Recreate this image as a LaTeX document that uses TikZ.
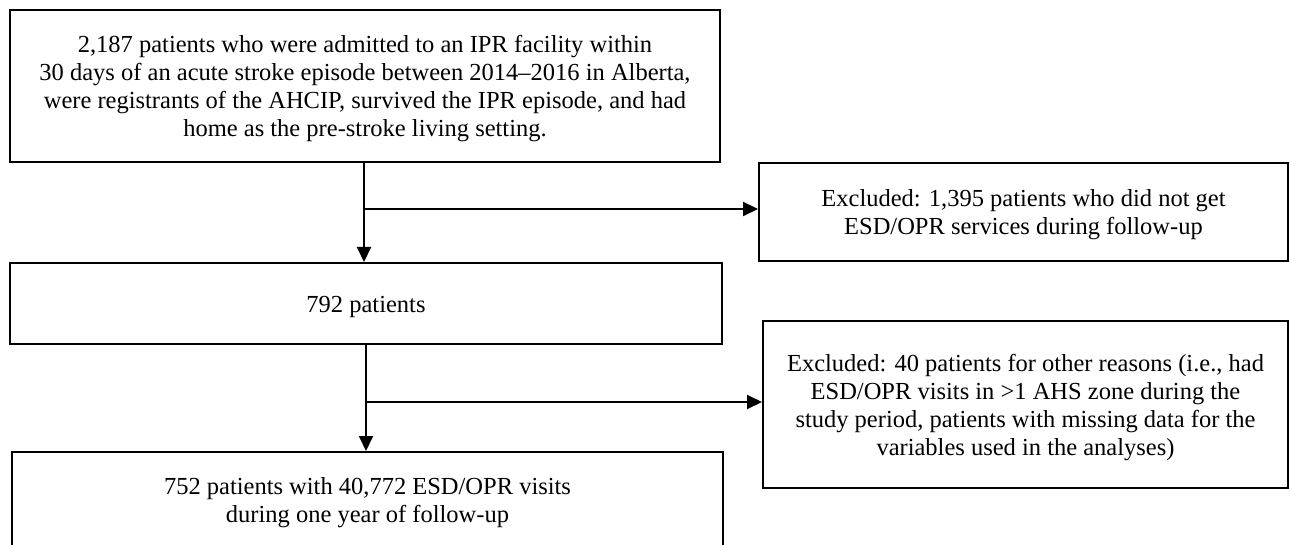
\documentclass[tikz,border=0pt]{standalone}
\usepackage{fontspec}
\setmainfont{Liberation Serif}
\usetikzlibrary{arrows.meta,calc}
\begin{document}
\begin{tikzpicture}[x=1pt,y=-1pt,
  box/.style={draw=black, line width=2pt, fill=white, inner sep=0pt},
  txt/.style={align=center, font=\fontsize{24.5}{28}\selectfont, inner sep=0pt, yshift=-3pt},
  arr/.style={line width=2pt, -{Triangle[length=15pt,width=14pt]}}]
\useasboundingbox (0,0) rectangle (1290,545);
\clip (0,0) rectangle (1290,545);
\fill[white] (0,0) rectangle (1290,545);
\node[box, minimum width=710, minimum height=152] (b1) at (365,86) {};
\node[txt] (t1) at (b1.center) {2,187 patients who were admitted to an IPR facility within\\30 days of an acute stroke episode between 2014–2016 in Alberta,\\were registrants of the AHCIP, survived the IPR episode, and had\\home as the pre-stroke living setting.};
\node[box, minimum width=529, minimum height=98] (b2) at (1023.5,212) {};
\node[txt] (t2) at (b2.center) {Excluded: 1,395 patients who did not get\\ESD/OPR services during follow-up};
\node[box, minimum width=712, minimum height=81] (b3) at (366,303.5) {};
\node[txt] (t3) at (b3.center) {792 patients};
\node[box, minimum width=525, minimum height=167] (b4) at (1025.5,404.5) {};
\node[txt] (t4) at (b4.center) {Excluded: 40 patients for other reasons (i.e., had\\ESD/OPR visits in >1 AHS zone during the\\study period, patients with missing data for the\\variables used in the analyses)};
\node[box, minimum width=711, minimum height=140, anchor=north] (b5) at (367.5,451) {};
\node[txt] (t5) at ($(b5.north)+(0,49)$) {752 patients with 40,772 ESD/OPR visits\\during one year of follow-up};
\coordinate (j1) at (364,209);
\coordinate (j2) at (366,402);
\draw[line width=2pt] (j1 |- b1.south) -- (j1);
\draw[arr] (j1) -- (j1 |- b3.north);
\draw[arr] (j1) -- (j1 -| b2.west);
\draw[line width=2pt] (j2 |- b3.south) -- (j2);
\draw[arr] (j2) -- (j2 |- b5.north);
\draw[arr] (j2) -- (j2 -| b4.west);
\end{tikzpicture}
\end{document}
